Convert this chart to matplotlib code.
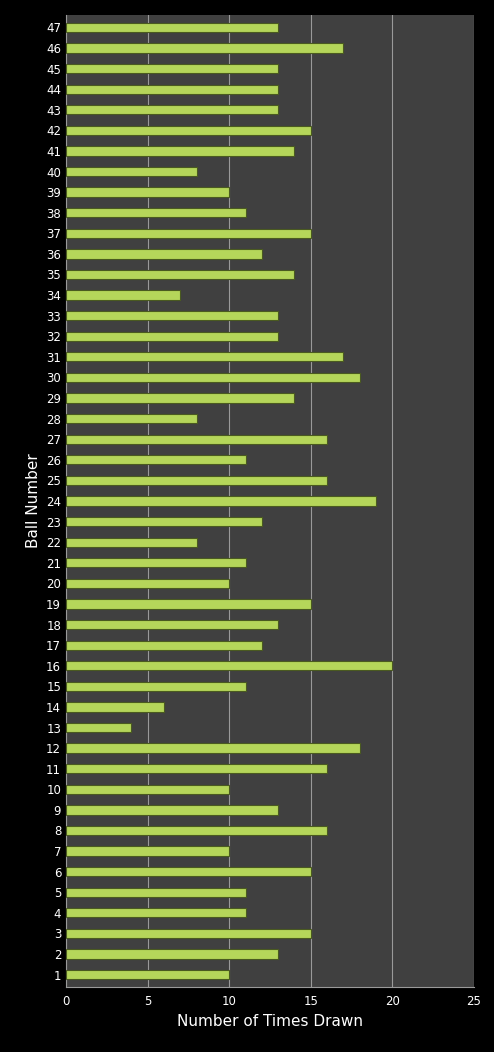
import matplotlib
matplotlib.use("Agg")
import matplotlib.pyplot as plt
import numpy as np

balls = list(range(1, 48))
times_drawn = [10, 13, 15, 11, 11, 15, 10, 16, 13, 10,
               16, 18, 4, 6, 11, 20, 12, 13, 15, 10,
               11, 8, 12, 19, 16, 11, 16, 8, 14, 18,
               17, 13, 13, 7, 14, 12, 15, 11, 10, 8,
               14, 15, 13, 13, 13, 17, 13]

fig = plt.figure(figsize=(4.94, 10.52), dpi=100, facecolor="black")
ax = fig.add_axes([66 / 494, 1 - 987 / 1052, 408 / 494, 972 / 1052])
ax.set_facecolor("#404040")

ax.barh(balls, times_drawn, height=0.45, color="#b5d65a", edgecolor="#4a5a20",
        linewidth=0.8, zorder=3)

ax.set_xlim(0, 25)
ax.set_ylim(0.4, 47.6)
ax.set_xticks([0, 5, 10, 15, 20, 25])
ax.set_yticks(balls)
ax.grid(axis="x", color="#9a9a9a", linewidth=0.8, zorder=0)
ax.tick_params(colors="white", labelsize=8.5, length=0)
ax.tick_params(axis="x", pad=6)
for s in ax.spines.values():
    s.set_visible(False)
ax.spines["left"].set_visible(True)
ax.spines["left"].set_color("#9a9a9a")
ax.spines["bottom"].set_visible(True)
ax.spines["bottom"].set_color("#9a9a9a")

ax.set_xlabel("Number of Times Drawn", color="white", fontsize=11)
ax.set_ylabel("Ball Number", color="white", fontsize=11)

fig.savefig("out.png", dpi=100, facecolor="black")
